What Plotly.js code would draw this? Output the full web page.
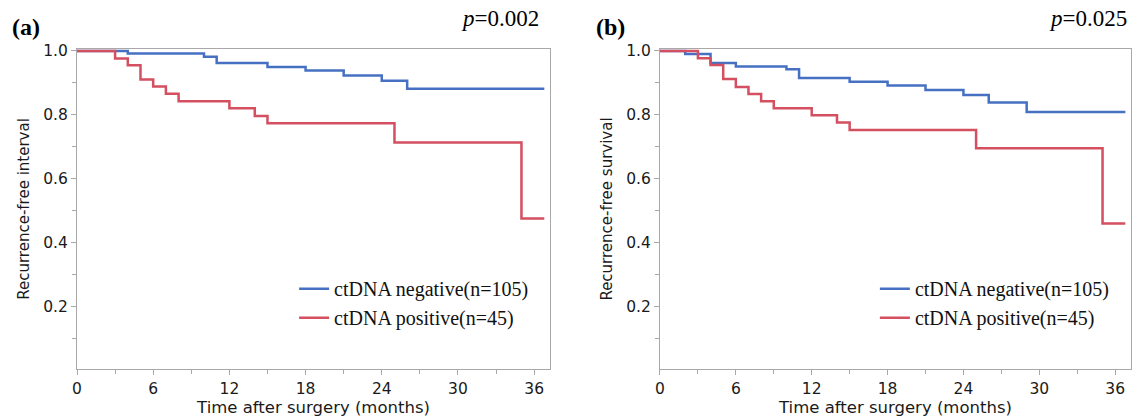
<!DOCTYPE html>
<html>
<head>
<meta charset="utf-8">
<script src="https://cdn.plot.ly/plotly-3.0.1.min.js"></script>
<style>html,body{margin:0;padding:0;background:#fff;}#chart{width:1142px;height:420px;}</style>
</head>
<body>
<div id="chart"></div>
<script>
// Panel (a): recurrence-free interval
const aNegTime = [0, 4, 10, 11, 15, 18, 21, 24, 26, 36.8];
const aNegSurv = [1.0, 0.992, 0.982, 0.962, 0.950, 0.939, 0.923, 0.907, 0.882, 0.882];
const aPosTime = [0, 3, 4, 5, 6, 7, 8, 12, 14, 15, 25, 35, 36.8];
const aPosSurv = [1.0, 0.976, 0.955, 0.911, 0.889, 0.866, 0.843, 0.821, 0.797, 0.774, 0.714, 0.476, 0.476];
// Panel (b): recurrence-free survival
const bNegTime = [0, 2, 4, 6, 10, 11, 15, 18, 21, 24, 26, 29, 36.8];
const bNegSurv = [1.0, 0.990, 0.962, 0.951, 0.943, 0.915, 0.904, 0.892, 0.878, 0.862, 0.839, 0.809, 0.809];
const bPosTime = [0, 3, 4, 5, 6, 7, 8, 9, 12, 14, 15, 25, 35, 36.8];
const bPosSurv = [1.0, 0.977, 0.956, 0.912, 0.887, 0.865, 0.843, 0.821, 0.799, 0.776, 0.753, 0.696, 0.461, 0.461];

const seriesNames = ['ctDNA negative(n=105)', 'ctDNA positive(n=45)'];
const panelLabels = ['(a)', '(b)'];
const pValues = ['0.002', '0.025'];
const yTitles = ['Recurrence-free interval', 'Recurrence-free survival'];
const xTitle = 'Time after surgery (months)';
const xTickVals = [0, 6, 12, 18, 24, 30, 36];
const yTickVals = [0.2, 0.4, 0.6, 0.8, 1.0];

const BLUE = '#4670c2';
const RED = '#d44f60';
const AXIS = '#a8a8a8';
const SANS = 'DejaVu Sans, Verdana, sans-serif';
const TICKFONT = {family: SANS, size: 15.5, color: '#1a1a1a'};
const SERIF = 'Liberation Serif, Times New Roman, serif';

function trace(x, y, color, name, xa, ya, lg) {
  return {x: x, y: y, type: 'scatter', mode: 'lines', line: {shape: 'hv', color: color, width: 2.5},
          name: name, xaxis: xa, yaxis: ya, legend: lg, hoverinfo: 'skip'};
}

const data = [
  trace(aNegTime, aNegSurv, BLUE, seriesNames[0], 'x', 'y', 'legend'),
  trace(aPosTime, aPosSurv, RED, seriesNames[1], 'x', 'y', 'legend'),
  trace(bNegTime, bNegSurv, BLUE, seriesNames[0], 'x2', 'y2', 'legend2'),
  trace(bPosTime, bPosSurv, RED, seriesNames[1], 'x2', 'y2', 'legend2')
];

function xAxis(domain, anchor) {
  return {domain: domain, anchor: anchor, range: [0, 37.25], tickvals: xTickVals, ticktext: xTickVals.map(String),
    showline: true, linecolor: AXIS, linewidth: 1, mirror: true, showgrid: false, zeroline: false,
    ticks: 'outside', ticklen: 5, tickcolor: AXIS, tickwidth: 1, tickfont: TICKFONT,
    minor: {dtick: 3, tick0: 0, ticks: 'outside', ticklen: 4, tickcolor: AXIS, tickwidth: 1, showgrid: false},
    title: {text: xTitle, font: {family: SANS, size: 16.5, color: '#1a1a1a'}, standoff: 1}};
}
function yAxis(anchor, title) {
  return {domain: [0, 1], anchor: anchor, range: [0.006, 1.006], tickvals: yTickVals,
    ticktext: yTickVals.map(v => v.toFixed(1)),
    showline: true, linecolor: AXIS, linewidth: 1, mirror: true, showgrid: false, zeroline: false,
    ticks: 'outside', ticklen: 5, tickcolor: AXIS, tickwidth: 1, tickfont: TICKFONT,
    minor: {dtick: 0.1, tick0: 0, ticks: 'outside', ticklen: 4, tickcolor: AXIS, tickwidth: 1, showgrid: false},
    title: {text: title, font: {family: SANS, size: 15, color: '#1a1a1a'}, standoff: 9}};
}

const legendBase = {bgcolor: 'rgba(0,0,0,0)', borderwidth: 0, font: {family: SERIF, size: 20, color: '#111'},
  itemwidth: 30, tracegroupgap: 0, xanchor: 'left', yanchor: 'top'};

const layout = {
  width: 1142, height: 420,
  margin: {l: 77, r: 11, t: 49, b: 51},
  paper_bgcolor: '#fff', plot_bgcolor: '#fff',
  showlegend: true,
  xaxis: xAxis([0, 0.4488], 'y'),
  yaxis: yAxis('x', yTitles[0]),
  xaxis2: xAxis([0.5531, 1], 'y2'),
  yaxis2: yAxis('x2', yTitles[1]),
  legend: Object.assign({}, legendBase, {x: 0.206, y: 0.312}),
  legend2: Object.assign({}, legendBase, {x: 0.757, y: 0.312}),
  annotations: [
    {text: '<b>' + panelLabels[0] + '</b>', xref: 'paper', yref: 'paper', x: -0.064, y: 1.07, xanchor: 'left', yanchor: 'middle', showarrow: false,
     font: {family: SERIF, size: 24, color: '#000'}},
    {text: '<i>p</i>=' + pValues[0], xref: 'paper', yref: 'paper', x: 0.4406, y: 1.095, xanchor: 'right', yanchor: 'middle', showarrow: false,
     font: {family: SERIF, size: 23, color: '#000'}},
    {text: '<b>' + panelLabels[1] + '</b>', xref: 'paper', yref: 'paper', x: 0.4905, y: 1.07, xanchor: 'left', yanchor: 'middle', showarrow: false,
     font: {family: SERIF, size: 24, color: '#000'}},
    {text: '<i>p</i>=' + pValues[1], xref: 'paper', yref: 'paper', x: 0.998, y: 1.095, xanchor: 'right', yanchor: 'middle', showarrow: false,
     font: {family: SERIF, size: 23, color: '#000'}}
  ]
};

Plotly.newPlot('chart', data, layout, {displayModeBar: false, staticPlot: true});
</script>
</body>
</html>
